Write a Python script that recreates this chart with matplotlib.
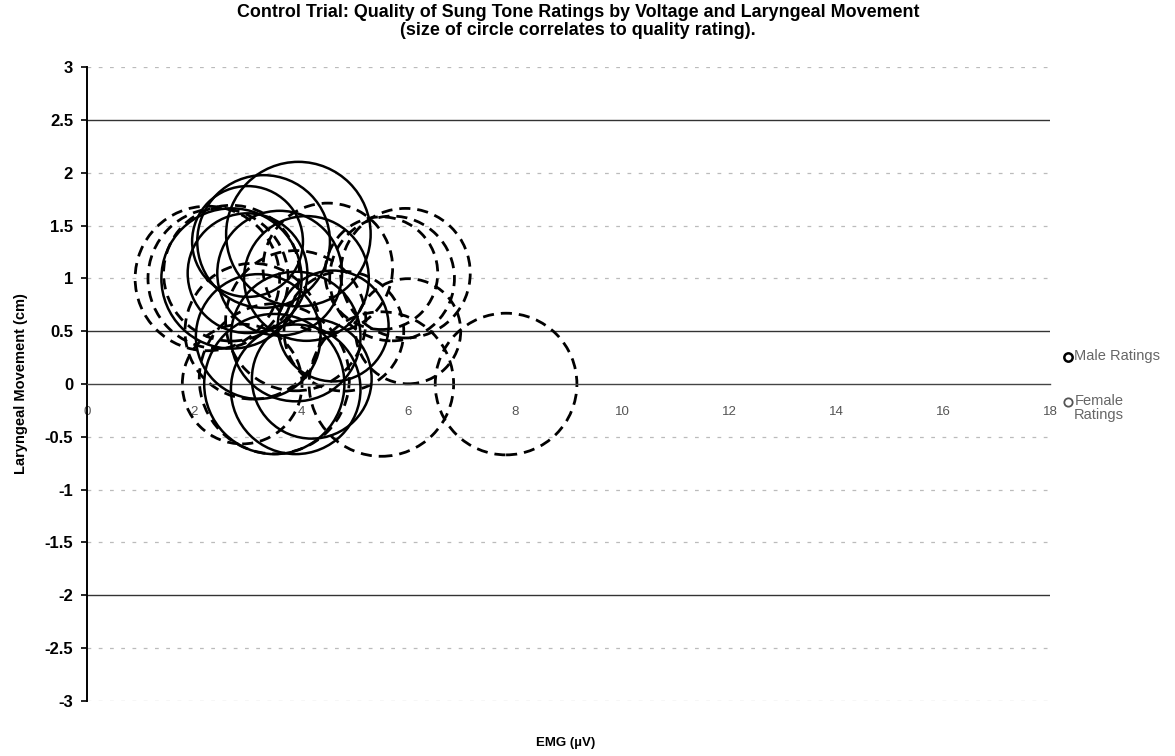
import numpy as np
import matplotlib.pyplot as plt
from matplotlib.lines import Line2D

plt.rcParams['font.family'] = ['Liberation Sans', 'DejaVu Sans']

# EMG (uV), laryngeal movement (cm) and quality rating per sung tone
male_emg = [3.95, 3.3, 2.7, 3.0, 3.6, 4.1, 3.2, 3.9, 3.5, 3.9, 4.2, 3.0, 4.6]
male_move = [1.42, 1.35, 1.0, 1.05, 1.05, 1.0, 0.45, 0.45, 0.0, -0.05, 0.05, 1.35, 0.55]
male_rating = [5.1, 4.3, 4.8, 3.5, 3.8, 3.8, 3.8, 4.1, 4.8, 4.1, 3.5, 3.0, 3.0]

female_emg = [7.83, 5.5, 6.0, 5.95, 5.7, 5.5, 2.25, 2.45, 2.7, 3.5, 3.9, 4.5, 3.1, 4.8, 2.9]
female_move = [0.0, 0.0, 0.5, 1.05, 1.0, 1.05, 1.0, 1.0, 1.05, 0.05, 0.6, 1.1, 0.5, 0.5, 0.0]
female_rating = [4.9, 5.1, 2.7, 4.1, 3.8, 3.1, 5.1, 4.8, 4.5, 5.5, 4.8, 4.1, 4.5, 3.5, 3.5]

SIZE_SCALE = 2123  # marker area (pt^2) per rating point

fig = plt.figure(figsize=(11.75, 7.56), dpi=100)
ax = fig.add_axes([0.074, 0.073, 0.82, 0.838])

ax.set_xlim(0, 18)
ax.set_ylim(-3, 3)

# horizontal gridlines, some printed dark, most faint
dark = [2.5, 0.5, -2]
for yv in np.arange(-3, 3.01, 0.5):
    if np.isclose(yv, 0):
        continue
    if any(np.isclose(yv, d) for d in dark):
        ax.axhline(yv, color='#333333', lw=1.0, zorder=0)
    else:
        ax.axhline(yv, color='#bbbbbb', lw=0.9, ls=(0, (3, 6)), zorder=0)

ax.scatter(male_emg, male_move, s=np.array(male_rating) * SIZE_SCALE,
           facecolors='none', edgecolors='black', linewidths=1.8, zorder=3)
ax.scatter(female_emg, female_move, s=np.array(female_rating) * SIZE_SCALE,
           facecolors='none', edgecolors='black', linewidths=2.0,
           linestyles=(0, (4, 2.5)), zorder=2)

for side in ['top', 'right']:
    ax.spines[side].set_visible(False)
ax.spines['bottom'].set_position(('data', 0))
ax.spines['bottom'].set_color('#444444')
ax.spines['bottom'].set_linewidth(1.0)
ax.spines['left'].set_linewidth(1.4)

ax.set_yticks(np.arange(-3, 3.01, 0.5))
ax.set_yticklabels(['-3', '-2.5', '-2', '-1.5', '-1', '-0.5', '0',
                    '0.5', '1', '1.5', '2', '2.5', '3'],
                   fontsize=12, fontweight='bold')
ax.tick_params(axis='y', direction='out', length=4, width=1.2, pad=6)

ax.set_xticks(np.arange(0, 19, 2))
ax.tick_params(axis='x', length=0, pad=16, labelsize=9.5, labelcolor='#555555')

ax.set_ylabel('Laryngeal Movement (cm)', fontsize=10.5, fontweight='bold', labelpad=12)
fig.text(0.481, 0.013, 'EMG (\u00b5V)', fontsize=9.5, fontweight='bold', ha='center')

fig.text(0.492, 0.995,
         'Control Trial: Quality of Sung Tone Ratings by Voltage and Laryngeal Movement\n'
         '(size of circle correlates to quality rating).',
         ha='center', va='top', fontsize=12.9, fontweight='bold', linespacing=1.1)

# legend drawn by hand to the right of the plot
legend_items = [
    ('Male Ratings', '-', 'black', 1.8, 1 - 357 / 756),
    ('Female\nRatings', '--', '#555555', 1.3, 1 - 402 / 756),
]
for label, ls, ec, mew, yf in legend_items:
    fig.add_artist(Line2D([1068 / 1175], [yf], transform=fig.transFigure,
                          marker='o', ls='none', mfc='none', mec=ec, mew=mew, ms=6))
    fig.text(1074 / 1175, yf + 0.011, label, fontsize=10.5, color='#666666',
             ha='left', va='top', multialignment='center', linespacing=1.05)

fig.savefig('out.png', dpi=100)
